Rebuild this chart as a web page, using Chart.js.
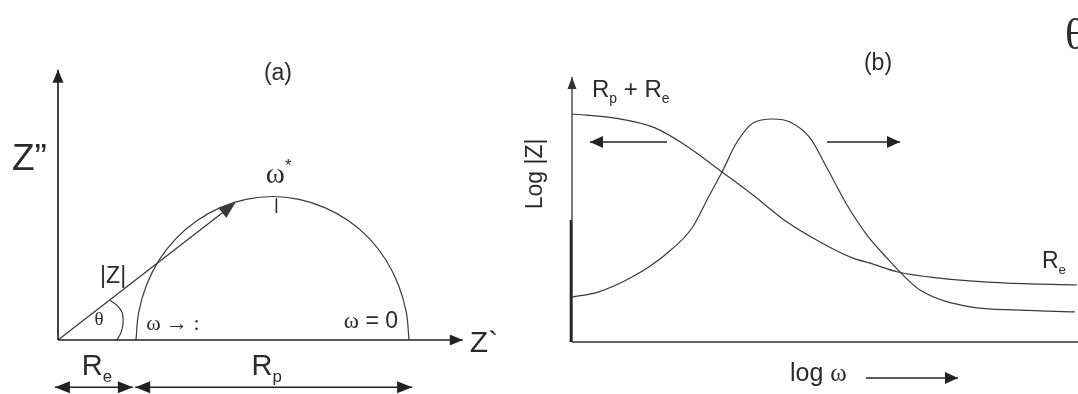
<!DOCTYPE html>
<html>
<head>
<meta charset="utf-8">
<script src="https://cdn.jsdelivr.net/npm/chart.js@4.4.1/dist/chart.umd.min.js"></script>
<style>
  body { margin: 0; background: #fff; }
  #wrap { position: relative; width: 1078px; height: 394px; overflow: hidden; background: #fff; }
  canvas { position: absolute; top: 0; }
  #nyquist { left: 0; }
  #bode { left: 500px; }
</style>
</head>
<body>
<div id="wrap">
  <canvas id="nyquist" width="530" height="394"></canvas>
  <canvas id="bode" width="578" height="394"></canvas>
</div>
<script>
// ---- (a) Nyquist plot: Z' vs Z'' ----
const Re = 20;
const Rp = 70;

// semicircle from Re (omega -> inf) to Re + Rp (omega = 0)
const arcZreal = [20, 20.7, 22.7, 25.9, 30.3, 35.6, 41.6, 48.2, 55, 61.8, 68.4, 74.5, 79.8, 84.1, 87.3, 89.3, 90];
const arcZimag = [0, 6.8, 13.4, 19.5, 24.8, 29.1, 32.3, 34.3, 35, 34.3, 32.3, 29.1, 24.8, 19.5, 13.4, 6.8, 0];

// |Z| vector and the phase-angle arc at the origin
const vectorZ = { x: [0, 45.4], y: [0, 33.4] };
const thetaArcX = [15.1, 16.2, 16.7, 15.9, 13.3];
const thetaArcY = [0, 2.0, 4.9, 7.6, 9.8];

// omega* marker at the top of the arc
const omegaStar = { x: 56, yTop: 34.6, yBottom: 31.0 };

// ---- (b) Bode plot: log|Z| and theta vs log omega ----
const logOmegaZ = [0, 0.86, 1.66, 2.26, 3.0, 3.62, 4.3, 4.96, 5.62, 5.96, 6.52, 7.3, 8.62, 10.1];
const logZ      = [100, 98.2, 93.9, 86.4, 74.6, 64.5, 52.6, 43.9, 36.8, 34.6, 30.7, 28.1, 25.9, 25.0];

const logOmegaTheta = [0, 0.52, 1.2, 1.86, 2.4, 2.72, 3.0, 3.3, 3.62, 4.02, 4.36, 4.76, 5.1, 5.5, 5.9, 6.3, 6.56, 6.96, 7.96, 8.96, 10.06];
const theta         = [19.7, 21.9, 28.5, 38.2, 50, 63.2, 74.6, 87.7, 96.1, 97.8, 96.5, 89.5, 76.3, 60.1, 46.9, 36.8, 30.7, 22.8, 15.4, 14.0, 13.2];

const INK = '#2b2b2b';
const LINE = '#3a3a3a';
const SANS = '"Liberation Sans", Arial, sans-serif';
const SERIF = '"Liberation Serif", "Times New Roman", serif';

const pts = (xs, ys) => xs.map((x, i) => ({ x, y: ys[i] }));

function drawHead(ctx, tip, from, len, half, color) {
  const a = Math.atan2(tip.y - from.y, tip.x - from.x);
  ctx.save();
  ctx.translate(tip.x, tip.y);
  ctx.rotate(a);
  ctx.beginPath();
  ctx.moveTo(0, 0);
  ctx.lineTo(-len, -half);
  ctx.lineTo(-len, half);
  ctx.closePath();
  ctx.fillStyle = color;
  ctx.fill();
  ctx.restore();
}

// filled arrow heads on datasets that ask for them
const arrowHeads = {
  id: 'arrowHeads',
  afterDatasetsDraw(chart) {
    const ctx = chart.ctx;
    chart.data.datasets.forEach((ds, i) => {
      if (!ds.arrow) return;
      const p = chart.getDatasetMeta(i).data;
      const { len = 12, half = 5, start, end } = ds.arrow;
      const color = ds.borderColor || LINE;
      if (end) drawHead(ctx, p[p.length - 1], p[p.length - 2], len, half, color);
      if (start) drawHead(ctx, p[0], p[1], len, half, color);
    });
  }
};

// text with sub/superscripts, placed in data coordinates
const texts = {
  id: 'texts',
  afterDraw(chart, args, opts) {
    const ctx = chart.ctx;
    const xs = chart.scales.x, ys = chart.scales.y;
    (opts.items || []).forEach(it => {
      ctx.save();
      ctx.translate(xs.getPixelForValue(it.x), ys.getPixelForValue(it.y));
      if (it.rotate) ctx.rotate(it.rotate);
      ctx.fillStyle = INK;
      ctx.textBaseline = it.baseline || 'alphabetic';
      ctx.textAlign = 'left';
      const parts = it.parts.map(p => {
        const size = (p.sub || p.sup) ? it.size * 0.58 : it.size;
        const font = size + 'px ' + (p.serif ? SERIF : SANS);
        ctx.font = font;
        return Object.assign({}, p, { font, w: ctx.measureText(p.t).width });
      });
      const total = parts.reduce((a, p) => a + p.w, 0);
      let x = it.align === 'center' ? -total / 2 : (it.align === 'right' ? -total : 0);
      parts.forEach(p => {
        ctx.font = p.font;
        const dy = p.sub ? it.size * 0.26 : (p.sup ? -it.size * 0.42 : 0);
        ctx.fillText(p.t, x, dy);
        x += p.w;
      });
      ctx.restore();
    });
  }
};

function options(xr, yr, items) {
  return {
    responsive: false,
    animation: false,
    devicePixelRatio: 1,
    layout: { padding: 0 },
    plugins: {
      legend: { display: false },
      tooltip: { enabled: false },
      texts: { items }
    },
    scales: {
      x: { type: 'linear', min: xr[0], max: xr[1], display: false },
      y: { type: 'linear', min: yr[0], max: yr[1], display: false }
    },
    elements: { point: { radius: 0 } }
  };
}

function line(data, extra) {
  return Object.assign({
    data, showLine: true, fill: false, tension: 0,
    borderColor: LINE, borderWidth: 1.2, pointRadius: 0
  }, extra || {});
}

// ---- chart (a) ----
new Chart(document.getElementById('nyquist'), {
  type: 'scatter',
  data: {
    datasets: [
      line(pts([0, 103.8], [0, 0]), { borderColor: '#222', borderWidth: 1.7, arrow: { end: true, len: 13, half: 5.5 } }),
      line(pts([0, 0], [0, 65.9]), { borderColor: '#222', borderWidth: 1.7, arrow: { end: true, len: 13, half: 5.5 } }),
      line(pts(arcZreal, arcZimag), { tension: 0.4 }),
      line(pts(vectorZ.x, vectorZ.y), { borderWidth: 1.3, arrow: { end: true, len: 16, half: 6.5 } }),
      line(pts(thetaArcX, thetaArcY), { tension: 0.5 }),
      line(pts([omegaStar.x, omegaStar.x], [omegaStar.yTop, omegaStar.yBottom]), { borderColor: '#222', borderWidth: 1.5 }),
      line(pts([-0.8, Re - 0.8], [-11.5, -11.5]), { borderColor: '#222', borderWidth: 1.5, arrow: { start: true, end: true, len: 15, half: 6 } }),
      line(pts([Re - 0.2, Re + Rp + 0.8], [-11.5, -11.5]), { borderColor: '#222', borderWidth: 1.5, arrow: { start: true, end: true, len: 15, half: 6 } })
    ]
  },
  options: options([-14.872, 121.03], [-13.17, 82.93], [
    { x: 56.4, y: 63.4, size: 23, align: 'center', parts: [{ t: '(a)' }] },
    { x: -11.8, y: 41.5, size: 37, parts: [{ t: 'Z”' }] },
    { x: 105.6, y: -2.9, size: 30, parts: [{ t: 'Z`' }] },
    { x: 53.3, y: 38.3, size: 29, parts: [{ t: 'ω', serif: true }, { t: '*', sup: true }] },
    { x: 10.8, y: 13.9, size: 23, parts: [{ t: '|Z|' }] },
    { x: 10.5, y: 3.7, size: 19, align: 'center', parts: [{ t: 'θ', serif: true }] },
    { x: 22.6, y: 2.4, size: 22, parts: [{ t: 'ω → :', serif: true }] },
    { x: 73.3, y: 2.9, size: 23, parts: [{ t: 'ω', serif: true }, { t: ' = 0' }] },
    { x: Re / 2, y: -8.5, size: 29, align: 'center', parts: [{ t: 'R' }, { t: 'e', sub: true }] },
    { x: Re + Rp / 2 - 1.5, y: -8.5, size: 29, align: 'center', parts: [{ t: 'R' }, { t: 'p', sub: true }] }
  ]),
  plugins: [arrowHeads, texts]
});

// ---- chart (b) ----
new Chart(document.getElementById('bode'), {
  type: 'scatter',
  data: {
    datasets: [
      line(pts([0, 10.12], [0, 0]), { borderColor: '#333', borderWidth: 1.5 }),
      line(pts([0, 0], [0, 116.2]), { borderColor: '#333', borderWidth: 1.3, arrow: { end: true, len: 12, half: 4.5 } }),
      line(pts([-0.02, -0.02], [0, 53.5]), { borderColor: '#222', borderWidth: 2.6 }),
      line(pts(logOmegaZ, logZ), { cubicInterpolationMode: 'monotone' }),
      line(pts(logOmegaTheta, theta), { cubicInterpolationMode: 'monotone' }),
      line(pts([1.9, 0.36], [87.7, 87.7]), { borderColor: '#222', borderWidth: 1.4, arrow: { end: true, len: 13, half: 6 } }),
      line(pts([5.1, 6.56], [87.7, 87.7]), { borderColor: '#222', borderWidth: 1.4, arrow: { end: true, len: 13, half: 6 } }),
      line(pts([5.88, 7.72], [-15.8, -15.8]), { borderColor: '#222', borderWidth: 1.4, arrow: { end: true, len: 13, half: 6 } })
    ]
  },
  options: options([-1.44, 10.12], [-22.8, 150], [
    { x: 6.12, y: 119.3, size: 23, align: 'center', parts: [{ t: '(b)' }] },
    { x: 0.4, y: 107.5, size: 24, parts: [{ t: 'R' }, { t: 'p', sub: true }, { t: ' + R' }, { t: 'e', sub: true }] },
    { x: 9.4, y: 32.5, size: 23, parts: [{ t: 'R' }, { t: 'e', sub: true }] },
    { x: 4.36, y: -17.1, size: 25, parts: [{ t: 'log ' }, { t: 'ω', serif: true }] },
    { x: 9.86, y: 128.5, size: 44, parts: [{ t: 'θ', serif: true }] },
    { x: -0.73, y: 73.7, size: 23, align: 'center', baseline: 'middle', rotate: -Math.PI / 2, parts: [{ t: 'Log |Z|' }] }
  ]),
  plugins: [arrowHeads, texts]
});
</script>
</body>
</html>
